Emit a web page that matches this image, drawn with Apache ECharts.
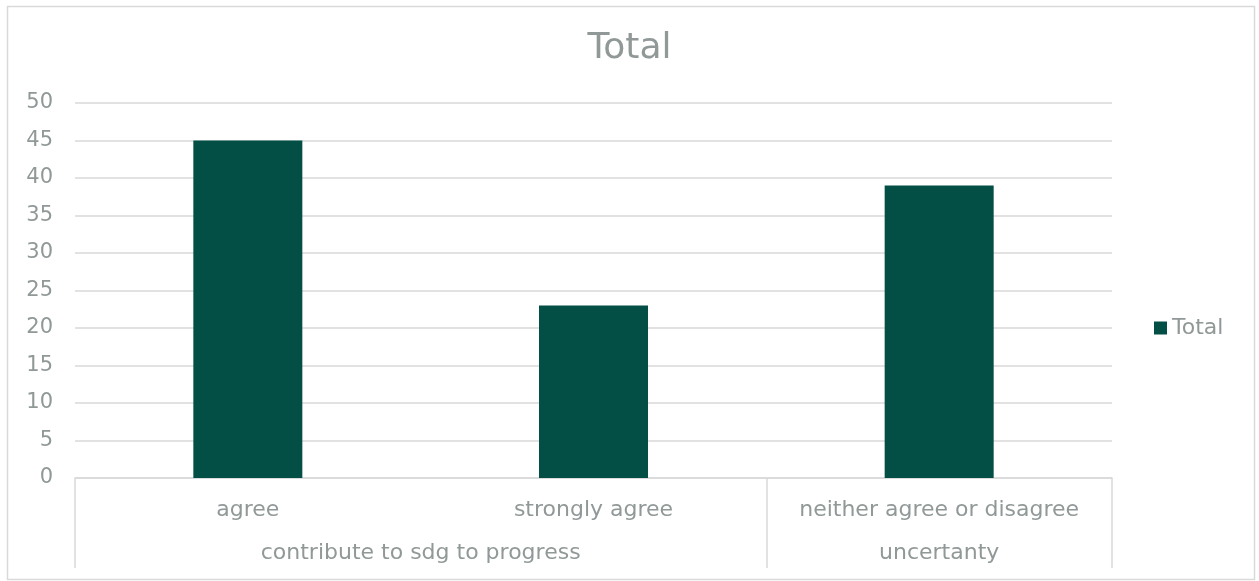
<!DOCTYPE html>
<html>
<head>
<meta charset="utf-8">
<script src="https://cdn.jsdelivr.net/npm/echarts@6/dist/echarts.min.js"></script>
<style>
  html, body { margin: 0; padding: 0; background: #fff; }
  #chart { width: 1259px; height: 581px; }
</style>
</head>
<body>
<div id="chart"></div>
<script>
// Answer categories (first row of the category axis)
const categories = ['agree', 'strongly agree', 'neither agree or disagree'];
// Response counts per answer
const totals = [45, 23, 39];
// Grouping row under the answers, with how many answers each group spans
const groups = ['contribute to sdg to progress', 'uncertanty'];
const groupSpans = [2, 1];
// Value axis ticks
const yMin = 0, yMax = 50, yStep = 5;

const textColor = '#919898';
const lineColor = '#d9d9d9';
const barColor = '#034e45';
const fontFamily = '"DejaVu Sans", "Open Sans", sans-serif';

// Boundaries and centres of each group, in category units
const groupEdges = [0];
const groupCentres = [];
groupSpans.forEach(function (s, i) {
  const start = groupEdges[groupEdges.length - 1];
  groupCentres.push(start + s / 2);
  groupEdges.push(start + s);
});

const chart = echarts.init(document.getElementById('chart'));
chart.setOption({
  animation: false,
  backgroundColor: '#fff',
  textStyle: { fontFamily: fontFamily },
  title: {
    text: 'Total',
    left: 'center',
    top: 26,
    textStyle: { fontFamily: fontFamily, fontSize: 36, fontWeight: 'normal', color: textColor }
  },
  legend: {
    orient: 'vertical',
    left: 1149,
    top: 312,
    icon: 'rect',
    itemWidth: 13,
    itemHeight: 13,
    itemGap: 6,
    textStyle: { fontFamily: fontFamily, fontSize: 22, color: textColor },
    data: ['Total']
  },
  grid: { left: 75, right: 147, top: 103, bottom: 103, containLabel: false },
  xAxis: [
    {
      type: 'category',
      data: categories,
      position: 'bottom',
      axisLine: { show: true, lineStyle: { color: lineColor, width: 1.5 } },
      axisTick: { show: false },
      axisLabel: { fontFamily: fontFamily, fontSize: 22, color: textColor, margin: 21, interval: 0 },
      splitLine: { show: false }
    },
    {
      type: 'value',
      min: 0,
      max: categories.length,
      position: 'bottom',
      axisLine: { show: false },
      axisTick: {
        show: true,
        customValues: groupEdges,
        length: 90,
        lineStyle: { color: lineColor, width: 1.5 }
      },
      axisLabel: {
        show: true,
        customValues: groupCentres,
        formatter: function (v) {
          const idx = groupCentres.indexOf(v);
          return idx >= 0 ? groups[idx] : '';
        },
        fontFamily: fontFamily, fontSize: 22, color: textColor, margin: 64
      },
      splitLine: { show: false }
    }
  ],
  yAxis: {
    type: 'value',
    min: yMin,
    max: yMax,
    interval: yStep,
    axisLine: { show: false },
    axisTick: { show: false },
    axisLabel: { fontFamily: fontFamily, fontSize: 21, color: textColor, margin: 22, padding: [3, 0, 0, 0] },
    splitLine: { lineStyle: { color: lineColor, width: 1.5 } }
  },
  series: [
    {
      name: 'Total',
      type: 'bar',
      xAxisIndex: 0,
      data: totals,
      barWidth: 109,
      itemStyle: { color: barColor }
    }
  ],
  graphic: [
    {
      type: 'rect',
      silent: true,
      z: -1,
      shape: { x: 7.5, y: 6.5, width: 1247, height: 573 },
      style: { fill: null, stroke: lineColor, lineWidth: 1.5 }
    }
  ]
});
</script>
</body>
</html>
